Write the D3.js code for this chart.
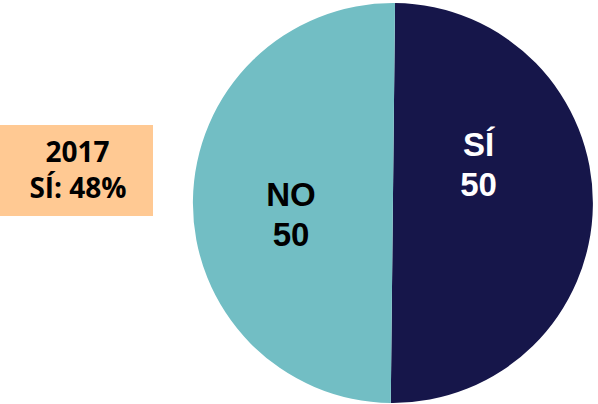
<!DOCTYPE html>
<html><head><meta charset="utf-8">
<script src="https://cdn.jsdelivr.net/npm/d3@7"></script>
<style>html,body{margin:0;padding:0;background:#fff;}svg{display:block;}</style>
</head><body>
<svg id="c" width="598" height="404"></svg>
<script>
const categories = ["SÍ", "NO"];
const values = [50, 50];
const labels = ["50", "50"];
const colors = ["#16164A", "#72BEC4"];
const boxLines = ["2017", "SÍ: 48%"];

const svg = d3.select("#c");
const cx = 392.9, cy = 203, r = 200;
const a0 = 0.0107;
const pie = d3.pie().sort(null).value(d => d.v).startAngle(a0).endAngle(a0 + 2 * Math.PI);
const data = pie(categories.map((c, i) => ({c, v: values[i], l: labels[i], col: colors[i]})));
const arc = d3.arc().innerRadius(0).outerRadius(r);
const g = svg.append("g").attr("transform", `translate(${cx},${cy})`);
g.selectAll("path").data(data).join("path").attr("d", arc).attr("fill", d => d.data.col);

const labelPos = [[478.5, 156, 196], [291, 206, 246]];
data.forEach((d, i) => {
  const [x, y1, y2] = labelPos[i];
  const t = svg.append("text").attr("text-anchor", "middle")
    .attr("font-family", "Liberation Sans, Arial, sans-serif").attr("font-weight", "bold")
    .attr("font-size", 33).attr("fill", i === 0 ? "#fff" : "#000");
  t.append("tspan").attr("x", x).attr("y", y1).text(d.data.c);
  t.append("tspan").attr("x", x).attr("y", y2).text(d.data.l);
});

svg.append("rect").attr("x", 0).attr("y", 125).attr("width", 153).attr("height", 91).attr("fill", "#FFC993");
const bt = svg.append("text").attr("text-anchor", "middle")
  .attr("font-family", "Open Sans, sans-serif").attr("font-weight", "bold")
  .attr("font-size", 28).attr("fill", "#000");
bt.append("tspan").attr("x", 77.5).attr("y", 162).text(boxLines[0]);
bt.append("tspan").attr("x", 78).attr("y", 198).text(boxLines[1]);
</script>
</body></html>
